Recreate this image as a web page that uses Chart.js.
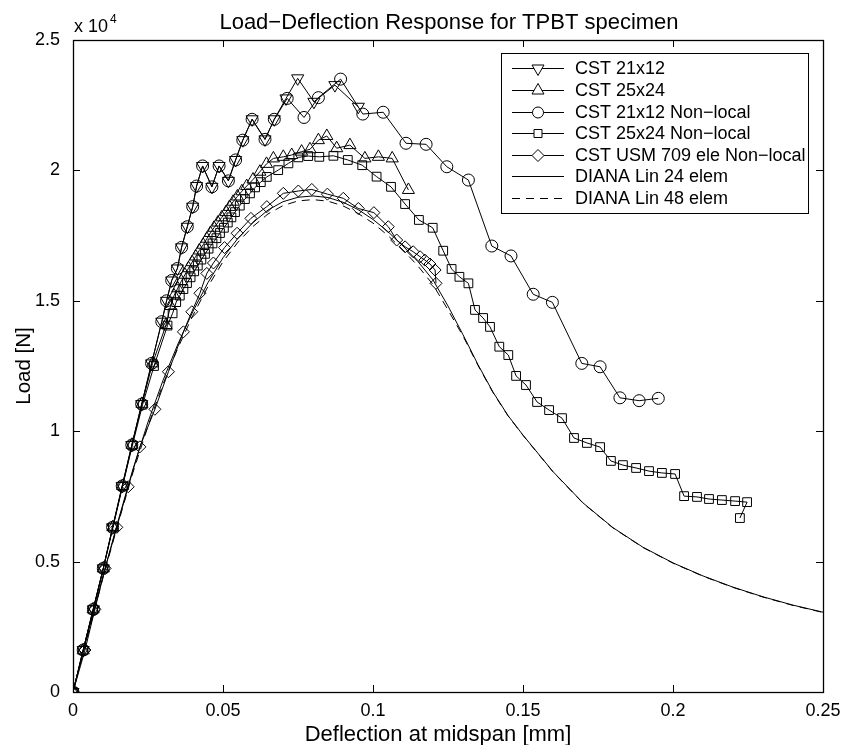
<!DOCTYPE html>
<html>
<head>
<meta charset="utf-8">
<script src="https://cdn.jsdelivr.net/npm/chart.js@4.4.0/dist/chart.umd.min.js"></script>
<style>
  html, body { margin: 0; padding: 0; background: #fff; }
  #wrap { width: 844px; height: 745px; }
</style>
</head>
<body>
<div id="wrap"><canvas id="plot" width="844" height="745"></canvas></div>
<script>
const FONT = '"Liberation Sans", Arial, Helvetica, sans-serif';

// values, [deflection mm, load N]
const cst21x12 = [
  [0, 0], [0.0034, 1610], [0.0068, 3170], [0.0101, 4740], [0.0132, 6315], [0.0164, 7900],
  [0.0196, 9470], [0.0229, 11040], [0.0262, 12600], [0.0296, 14200], [0.0312, 15000],
  [0.0329, 15780], [0.0348, 16240], [0.0362, 17050], [0.0381, 17840], [0.0399, 18610],
  [0.0412, 19400], [0.0432, 20170], [0.0463, 19370], [0.0487, 20170], [0.0518, 19600],
  [0.0542, 20400], [0.0566, 21160], [0.0597, 21960], [0.0640, 21190], [0.0671, 21960],
  [0.0710, 22760], [0.0749, 23530], [0.0803, 22630], [0.0873, 23270], [0.0951, 22440]
];
const cst25x24 = [
  [0, 0], [0.0034, 1600], [0.0067, 3170], [0.0101, 4740], [0.0133, 6320], [0.0165, 7900],
  [0.0197, 9480], [0.0230, 11050], [0.0265, 12600], [0.0310, 14070], [0.0325, 14800],
  [0.0337, 15200], [0.0349, 15480], [0.0361, 15750], [0.0373, 16000], [0.0385, 16250],
  [0.0397, 16480], [0.0409, 16700], [0.0421, 16930], [0.0434, 17150], [0.0446, 17380],
  [0.0458, 17600], [0.0470, 17800], [0.0483, 18000], [0.0496, 18200], [0.0510, 18400],
  [0.0522, 18600], [0.0534, 18800], [0.0548, 19000], [0.0563, 19200], [0.0579, 19400],
  [0.0600, 19650], [0.0623, 19950], [0.0645, 20250], [0.0668, 20460], [0.0701, 20520],
  [0.0729, 20590], [0.0762, 20720], [0.0790, 20810], [0.0818, 21160], [0.0846, 21320],
  [0.0879, 20850], [0.0923, 20970], [0.0973, 20460], [0.1018, 20520], [0.1064, 20460],
  [0.1118, 19250]
];
const cst21x12NL = [
  [0, 0], [0.0034, 1610], [0.0068, 3170], [0.0101, 4740], [0.0132, 6315], [0.0164, 7900],
  [0.0196, 9470], [0.0229, 11040], [0.0262, 12600], [0.0296, 14200], [0.0312, 15000],
  [0.0329, 15780], [0.0348, 16240], [0.0362, 17050], [0.0381, 17840], [0.0399, 18610],
  [0.0412, 19400], [0.0432, 20170], [0.0463, 19370], [0.0487, 20170], [0.0518, 19600],
  [0.0542, 20400], [0.0566, 21160], [0.0597, 21960], [0.0640, 21190], [0.0671, 21960],
  [0.0714, 22760], [0.0770, 22030], [0.0818, 22790], [0.0892, 23500], [0.0966, 22160],
  [0.1034, 22230], [0.1110, 21040], [0.1177, 21000], [0.1246, 20140], [0.1318, 19630],
  [0.1396, 17100], [0.1460, 16720], [0.1534, 15250], [0.1598, 14940], [0.1696, 12600],
  [0.1757, 12470], [0.1823, 11280], [0.1887, 11170], [0.1951, 11260]
];
const cst25x24NL = [
  [0, 0], [0.0034, 1600], [0.0067, 3160], [0.0101, 4740], [0.0133, 6310], [0.0165, 7890],
  [0.0198, 9460], [0.0232, 11020], [0.0270, 12500], [0.0315, 14050], [0.0332, 14520],
  [0.0344, 14950], [0.0356, 15200], [0.0368, 15450], [0.0380, 15680], [0.0392, 15900],
  [0.0404, 16130], [0.0416, 16350], [0.0428, 16580], [0.0440, 16800], [0.0452, 17000],
  [0.0465, 17200], [0.0478, 17400], [0.0490, 17600], [0.0503, 17800], [0.0516, 18000],
  [0.0528, 18200], [0.0540, 18400], [0.0556, 18650], [0.0573, 18900], [0.0590, 19120],
  [0.0607, 19350], [0.0626, 19550], [0.0646, 19750], [0.0684, 20010], [0.0718, 20270],
  [0.0751, 20500], [0.0784, 20550], [0.0821, 20520], [0.0868, 20560], [0.0916, 20400],
  [0.0964, 20200], [0.1012, 19760], [0.1060, 19370], [0.1107, 18710], [0.1153, 18100],
  [0.1199, 17800], [0.1234, 16920], [0.1262, 16220], [0.1288, 15920], [0.1318, 15670],
  [0.1340, 14650], [0.1367, 14340], [0.1390, 14000], [0.1421, 13240], [0.1451, 12920],
  [0.1477, 12120], [0.1510, 11770], [0.1547, 11120], [0.1587, 10810], [0.1630, 10500],
  [0.1670, 9740], [0.1713, 9550], [0.1757, 9390], [0.1793, 8860], [0.1833, 8700],
  [0.1877, 8590], [0.1920, 8470], [0.1963, 8400], [0.2007, 8360], [0.2037, 7510],
  [0.2080, 7480], [0.2120, 7400], [0.2163, 7360], [0.2207, 7320], [0.2247, 7280],
  [0.2223, 6670]
];
const cstUsm709NL = [
  [0, 0], [0.0040, 1610], [0.0073, 3170], [0.0107, 4740], [0.0146, 6315], [0.0184, 7870],
  [0.0223, 9400], [0.0273, 10840], [0.0318, 12280], [0.0368, 13810], [0.0396, 14580],
  [0.0423, 15290], [0.0446, 16050], [0.0468, 16450], [0.0505, 17040], [0.0547, 17590],
  [0.0593, 18160], [0.0646, 18610], [0.0701, 19120], [0.0751, 19210], [0.0796, 19270],
  [0.0848, 19090], [0.0901, 18930], [0.0951, 18540], [0.1003, 18380], [0.1051, 17840],
  [0.1079, 17330], [0.1107, 17070], [0.1134, 16880], [0.1157, 16690], [0.1173, 16560],
  [0.1190, 16410], [0.1207, 16180], [0.1210, 15670]
];
const dianaLin24 = [
  [0, 0], [0.005, 2250], [0.010, 4450], [0.015, 6550], [0.020, 8550], [0.025, 10350],
  [0.030, 11950], [0.035, 13350], [0.040, 14600], [0.045, 15700], [0.050, 16650],
  [0.055, 17400], [0.060, 18000], [0.065, 18480], [0.070, 18800], [0.075, 18970],
  [0.080, 19020], [0.085, 18960], [0.090, 18780], [0.095, 18500], [0.100, 18120],
  [0.105, 17650], [0.110, 17100], [0.115, 16500], [0.120, 15800], [0.125, 14800],
  [0.130, 13700], [0.135, 12550], [0.140, 11500], [0.145, 10600], [0.150, 9850],
  [0.160, 8450], [0.170, 7250], [0.180, 6300], [0.190, 5550], [0.200, 4950],
  [0.210, 4450], [0.220, 4020], [0.230, 3650], [0.240, 3330], [0.250, 3060]
];
const dianaLin48 = [
  [0, 0], [0.005, 2200], [0.010, 4380], [0.015, 6450], [0.020, 8420], [0.025, 10200],
  [0.030, 11800], [0.035, 13200], [0.040, 14450], [0.045, 15550], [0.050, 16500],
  [0.055, 17250], [0.060, 17850], [0.065, 18330], [0.070, 18650], [0.075, 18830],
  [0.080, 18880], [0.085, 18820], [0.090, 18640], [0.095, 18350], [0.100, 17980],
  [0.105, 17500], [0.110, 16950], [0.115, 16330], [0.120, 15620], [0.125, 14650],
  [0.130, 13650], [0.135, 12520], [0.140, 11480], [0.145, 10590], [0.150, 9840],
  [0.160, 8440], [0.170, 7240], [0.180, 6290], [0.190, 5540], [0.200, 4940],
  [0.210, 4440], [0.220, 4010], [0.230, 3640], [0.240, 3320], [0.250, 3050]
];

const seriesNames = [
  'CST 21x12', 'CST 25x24', 'CST 21x12 Non\u2212local', 'CST 25x24 Non\u2212local',
  'CST USM 709 ele Non\u2212local', 'DIANA Lin 24 elem', 'DIANA Lin 48 elem'
];
const xTicks = [0, 0.05, 0.1, 0.15, 0.2, 0.25];
const yTicks = [0, 5000, 10000, 15000, 20000, 25000];

const toXY = arr => arr.map(p => ({x: p[0], y: p[1]}));

function markerSet(style, radius, rotation) {
  return {
    pointStyle: style, pointRadius: radius, pointHoverRadius: radius,
    pointRotation: rotation || 0, pointBorderColor: '#000', pointBorderWidth: 1,
    pointBackgroundColor: 'rgba(0,0,0,0)'
  };
}

const datasets = [
  Object.assign({label: seriesNames[0], data: toXY(cst21x12)}, markerSet('triangle', 7, 180)),
  Object.assign({label: seriesNames[1], data: toXY(cst25x24)}, markerSet('triangle', 7)),
  Object.assign({label: seriesNames[2], data: toXY(cst21x12NL)}, markerSet('circle', 6)),
  Object.assign({label: seriesNames[3], data: toXY(cst25x24NL)}, markerSet('rect', 6.2)),
  Object.assign({label: seriesNames[4], data: toXY(cstUsm709NL)}, markerSet('rectRot', 6)),
  {label: seriesNames[5], data: toXY(dianaLin24), pointRadius: 0},
  {label: seriesNames[6], data: toXY(dianaLin48), pointRadius: 0, borderDash: [8, 6]}
].map(d => Object.assign({showLine: true, borderColor: '#000', borderWidth: 1, tension: 0, fill: false}, d));

// legend markers drawn by hand (MATLAB-style boxed legend)
function drawMarker(ctx, kind, x, y) {
  ctx.beginPath();
  if (kind === 'down') {
    ctx.moveTo(x - 6, y - 3.5); ctx.lineTo(x + 6, y - 3.5); ctx.lineTo(x, y + 7); ctx.closePath();
  } else if (kind === 'up') {
    ctx.moveTo(x - 6, y + 3.5); ctx.lineTo(x + 6, y + 3.5); ctx.lineTo(x, y - 7); ctx.closePath();
  } else if (kind === 'circle') {
    ctx.arc(x, y, 5.5, 0, Math.PI * 2);
  } else if (kind === 'square') {
    ctx.rect(x - 4, y - 4, 8, 8);
  } else if (kind === 'diamond') {
    ctx.moveTo(x - 6, y); ctx.lineTo(x, y - 6); ctx.lineTo(x + 6, y); ctx.lineTo(x, y + 6); ctx.closePath();
  }
  ctx.fill();
  ctx.stroke();
}

const decorations = {
  id: 'decorations',
  afterDraw(chart) {
    const {ctx, chartArea: a, scales: {x, y}} = chart;
    ctx.save();
    ctx.strokeStyle = '#000';
    ctx.fillStyle = '#000';
    ctx.lineWidth = 1;

    // inward ticks on all four sides
    ctx.beginPath();
    xTicks.forEach(v => {
      const px = Math.round(x.getPixelForValue(v)) + 0.5;
      ctx.moveTo(px, a.bottom); ctx.lineTo(px, a.bottom - 7);
      ctx.moveTo(px, a.top); ctx.lineTo(px, a.top + 7);
    });
    yTicks.forEach(v => {
      const py = Math.round(y.getPixelForValue(v)) + 0.5;
      ctx.moveTo(a.left, py); ctx.lineTo(a.left + 7, py);
      ctx.moveTo(a.right, py); ctx.lineTo(a.right - 7, py);
    });
    ctx.stroke();
    ctx.lineWidth = 1.3;
    ctx.strokeRect(a.left + 0.5, a.top + 0.5, a.right - a.left, a.bottom - a.top);
    ctx.lineWidth = 1;

    // exponent note
    ctx.font = '18px ' + FONT;
    ctx.textAlign = 'left';
    ctx.textBaseline = 'alphabetic';
    ctx.fillText('x 10', a.left + 1, 32);
    ctx.font = '12px ' + FONT;
    ctx.fillText('4', a.left + 37, 23);

    // title and axis labels
    ctx.font = '22px ' + FONT;
    ctx.textAlign = 'center';
    ctx.fillText('Load\u2212Deflection Response for TPBT specimen', 449, 29);
    ctx.fillText('Deflection at midspan [mm]', 438, 741);
    ctx.save();
    ctx.font = '20.5px ' + FONT;
    ctx.translate(30, (a.top + a.bottom) / 2);
    ctx.rotate(-Math.PI / 2);
    ctx.fillText('Load [N]', 0, 0);
    ctx.restore();

    // legend box
    const bx = 501.5, by = 53.5, bw = 307, bh = 160;
    ctx.fillStyle = '#fff';
    ctx.fillRect(bx, by, bw, bh);
    ctx.strokeRect(bx, by, bw, bh);
    const kinds = ['down', 'up', 'circle', 'square', 'diamond', null, null];
    ctx.font = '18px ' + FONT;
    ctx.textAlign = 'left';
    ctx.textBaseline = 'middle';
    seriesNames.forEach((name, i) => {
      const ry = Math.round(68.3 + i * 21.6) + 0.5;
      ctx.beginPath();
      ctx.setLineDash(i === 6 ? [8, 6] : []);
      ctx.moveTo(512, ry); ctx.lineTo(564, ry);
      ctx.stroke();
      ctx.setLineDash([]);
      if (kinds[i]) {
        ctx.fillStyle = '#fff';
        drawMarker(ctx, kinds[i], 538, ry);
      }
      ctx.fillStyle = '#000';
      ctx.fillText(name, 575, ry + 1);
    });
    ctx.restore();
  }
};

new Chart(document.getElementById('plot').getContext('2d'), {
  type: 'scatter',
  data: {datasets: datasets},
  options: {
    responsive: false,
    devicePixelRatio: 1,
    animation: false,
    layout: {padding: {top: 40, right: 21, left: 0, bottom: 0}},
    plugins: {legend: {display: false}, title: {display: false}, tooltip: {enabled: false}},
    scales: {
      x: {
        type: 'linear', min: 0, max: 0.25,
        afterBuildTicks: s => { s.ticks = xTicks.map(v => ({value: v})); },
        afterFit: s => { s.height = 53; },
        grid: {display: false}, border: {display: false},
        ticks: {
          color: '#000', padding: 0, maxRotation: 0, autoSkip: false,
          font: {family: FONT, size: 18},
          callback: v => String(Number(v.toFixed(2)))
        }
      },
      y: {
        type: 'linear', min: 0, max: 25000,
        afterBuildTicks: s => { s.ticks = yTicks.map(v => ({value: v})); },
        afterFit: s => { s.width = 73; },
        grid: {display: false}, border: {display: false},
        ticks: {
          color: '#000', padding: 5, autoSkip: false,
          font: {family: FONT, size: 18},
          callback: v => String(v / 10000)
        }
      }
    }
  },
  plugins: [decorations]
});
</script>
</body>
</html>
